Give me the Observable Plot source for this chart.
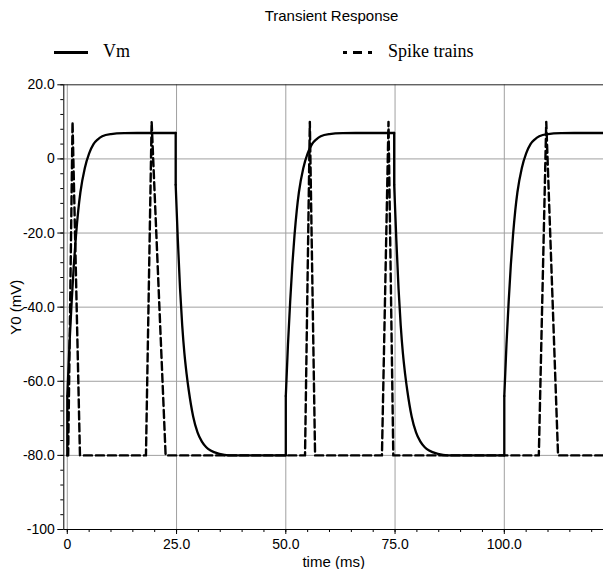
<!DOCTYPE html>
<html>
<head>
<meta charset="utf-8">
<script src="https://cdn.jsdelivr.net/npm/d3@7"></script>
<script src="https://cdn.jsdelivr.net/npm/@observablehq/plot@0.6"></script>
<style>
  html, body { margin: 0; padding: 0; background: #fff; }
  #wrap { width: 603px; height: 569px; position: relative; overflow: hidden; }
  #header { position: relative; width: 603px; height: 74px; }
  #title { position: absolute; left: 0; width: 663px; top: 7px; text-align: center;
           font-family: "Liberation Sans", Arial, sans-serif; font-size: 15px; color: #000; line-height: 18px; }
  .leg { position: absolute; font-family: "Liberation Serif", "Times New Roman", serif; font-size: 18px; color: #000; line-height: 20px; top: 41px; }
  #legsvg { position: absolute; left: 0; top: 0; }
  #chart svg { display: block; }
</style>
</head>
<body>
<div id="wrap">
  <div id="header">
    <svg id="legsvg" width="603" height="74"></svg>
    <div id="title"></div>
    <div class="leg" id="leg1" style="left:103px"></div>
    <div class="leg" id="leg2" style="left:388px"></div>
  </div>
  <div id="chart"></div>
</div>
<script>
const titleText = "Transient Response";
const seriesNames = ["Vm", "Spike trains"];
const xLabel = "time (ms)";
const yLabel = "Y0 (mV)";

const xTicks = [0, 25, 50, 75, 100];
const xTickLabels = ["0", "25.0", "50.0", "75.0", "100.0"];
const yTicks = [20, 0, -20, -40, -60, -80, -100];
const yTickLabels = ["20.0", "0", "-20.0", "-40.0", "-60.0", "-80.0", "-100"];
const xMinorTicks = [0,5,10,15,20,25,30,35,40,45,50,55,60,65,70,75,80,85,90,95,100,105,110,115,120];
const yMinorTicks = [20,16,12,8,4,0,-4,-8,-12,-16,-20,-24,-28,-32,-36,-40,-44,-48,-52,-56,-60,-64,-68,-72,-76,-80,-84,-88,-92,-96,-100];
const yGrid = [0, -20, -40, -60, -80];

// Vm (solid), split into pieces: jumps, rises, drops, decays
const vmSegment = [
  "j1","j1",
  "r1","r1","r1","r1","r1","r1","r1","r1","r1","r1","r1","r1","r1","r1","r1","r1","r1",
  "d1","d1",
  "f1","f1","f1","f1","f1","f1","f1","f1","f1","f1","f1","f1","f1","f1","f1",
  "j2","j2",
  "r2","r2","r2","r2","r2","r2","r2","r2","r2","r2","r2","r2","r2","r2","r2","r2","r2",
  "d2","d2",
  "f2","f2","f2","f2","f2","f2","f2","f2","f2","f2","f2","f2","f2","f2","f2",
  "j3","j3",
  "r3","r3","r3","r3","r3","r3","r3","r3","r3","r3","r3","r3","r3","r3","r3","r3","r3"
];
const vmTime = [
  0, 0,
  0, 0.5, 1, 1.5, 2, 2.5, 3, 4, 5, 6, 7, 8, 10, 13, 16, 20, 24.8,
  24.8, 24.8,
  24.8, 25.3, 25.8, 26.3, 26.8, 27.3, 27.8, 28.8, 29.8, 30.8, 31.8, 32.8, 34.8, 37, 50,
  50, 50,
  50, 50.5, 51, 51.5, 52, 52.5, 53, 54, 55, 56, 57, 58, 60, 63, 66, 70, 74.8,
  74.8, 74.8,
  74.8, 75.3, 75.8, 76.3, 76.8, 77.3, 77.8, 78.8, 79.8, 80.8, 81.8, 82.8, 84.8, 87, 100,
  100, 100,
  100, 100.5, 101, 101.5, 102, 102.5, 103, 104, 105, 106, 107, 108, 110, 113, 116, 120, 122.7
];
const vmValue = [
  -80, -64,
  -64, -50, -38.5, -28.5, -20.5, -14, -9, -2.5, 1.5, 4, 5.3, 6.1, 6.7, 6.95, 7, 7, 7,
  7, -7,
  -7, -22, -35, -45, -52.5, -58, -62.5, -69.5, -73.8, -76.3, -77.8, -78.7, -79.6, -80, -80,
  -80, -64,
  -64, -50, -38.5, -28.5, -20.5, -14, -9, -2.5, 1.5, 4, 5.3, 6.1, 6.7, 6.95, 7, 7, 7,
  7, -7,
  -7, -22, -35, -45, -52.5, -58, -62.5, -69.5, -73.8, -76.3, -77.8, -78.7, -79.6, -80, -80,
  -80, -64,
  -64, -50, -38.5, -28.5, -20.5, -14, -9, -2.5, 1.5, 4, 5.3, 6.1, 6.7, 6.95, 7, 7, 7
];

// Spike trains (dashed)
const spikeTime = [0, 0.2, 1.2, 2.9, 18.0, 19.3, 22.5, 54.4, 55.5, 56.7, 72.0, 73.5, 74.6, 107.9, 109.6, 112.3, 122.7];
const spikeValue = [-80, -80, 10, -80, -80, 10, -80, -80, 10, -80, -80, 10, -80, -80, 10, -80, -80];

const vm = vmTime.map((t, i) => ({t, v: vmValue[i], s: vmSegment[i]}));
const spikes = spikeTime.map((t, i) => ({t, v: spikeValue[i]}));

// Header: title + legend
document.getElementById("title").textContent = titleText;
document.getElementById("leg1").textContent = seriesNames[0];
document.getElementById("leg2").textContent = seriesNames[1];
const ls = d3.select("#legsvg");
ls.append("line").attr("x1", 54).attr("x2", 88).attr("y1", 52.5).attr("y2", 52.5)
  .attr("stroke", "#000").attr("stroke-width", 3);
ls.append("line").attr("x1", 343).attr("x2", 372).attr("y1", 52.5).attr("y2", 52.5)
  .attr("stroke", "#000").attr("stroke-width", 3).attr("stroke-dasharray", "4,6,9,6,4");

const fontSans = "'Liberation Sans', Arial, sans-serif";
const xLeft = -0.8, xRight = 122.7;

const chart = Plot.plot({
  width: 603,
  height: 495,
  marginTop: 10.3,
  marginBottom: 40,
  marginLeft: 63.3,
  marginRight: 0,
  style: {fontFamily: fontSans, fontSize: "14px", color: "#000", background: "#fff"},
  x: {domain: [xLeft, xRight], label: null},
  y: {domain: [-100, 20], label: null},
  marks: [
    Plot.ruleX(xTicks, {stroke: "#a0a0a0", strokeWidth: 1}),
    Plot.ruleY(yGrid, {stroke: "#a0a0a0", strokeWidth: 1}),
    Plot.ruleY([20], {stroke: "#222", strokeWidth: 1}),
    Plot.ruleY([-100], {stroke: "#000", strokeWidth: 1}),
    Plot.ruleX([xLeft], {stroke: "#000", strokeWidth: 1}),
    Plot.axisX(xMinorTicks, {tickSize: 3, tickFormat: () => "", label: null}),
    Plot.axisX(xTicks, {tickSize: 5, tickPadding: 5, fontSize: 14,
      tickFormat: d => xTickLabels[xTicks.indexOf(d)], label: null}),
    Plot.axisY(yMinorTicks, {tickSize: 3, tickFormat: () => "", label: null}),
    Plot.axisY(yTicks, {tickSize: 6, tickPadding: 3, fontSize: 14,
      tickFormat: d => yTickLabels[yTicks.indexOf(d)], label: null}),
    Plot.line(vm, {x: "t", y: "v", z: "s", curve: "monotone-x", stroke: "#000", strokeWidth: 2.3,
      strokeLinejoin: "round", strokeLinecap: "round"}),
    Plot.line(spikes, {x: "t", y: "v", stroke: "#000", strokeWidth: 2.4, strokeDasharray: "8,4"}),
    Plot.text([xLabel], {frameAnchor: "bottom", dy: 33, lineAnchor: "middle", fontSize: 15, fill: "#000"}),
    Plot.text([yLabel], {frameAnchor: "left", dx: -48, rotate: -90, lineAnchor: "middle", textAnchor: "middle", fontSize: 15, fill: "#000"})
  ]
});
document.getElementById("chart").appendChild(chart);
</script>
</body>
</html>
